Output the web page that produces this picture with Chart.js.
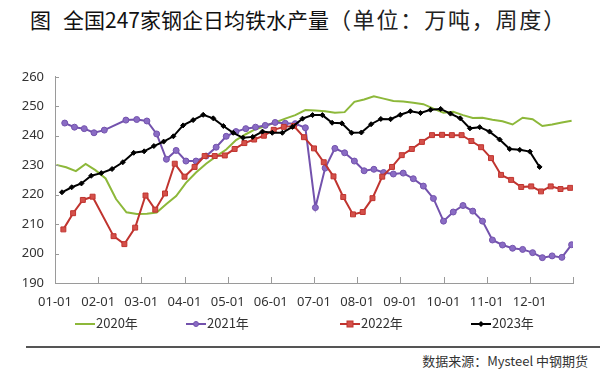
<!DOCTYPE html>
<html>
<head>
<meta charset="utf-8">
<script src="https://cdn.jsdelivr.net/npm/chart.js@4.4.1/dist/chart.umd.min.js"></script>
<style>
	body { margin:0; width:600px; height:372px; background:#fff; position:relative; overflow:hidden;
		font-family:"Noto Sans CJK SC","Noto Sans",sans-serif; }
	#title { position:absolute; left:30px; top:2px; font-size:21px; line-height:32px; color:#111; white-space:nowrap; }
	#title .fig { margin-right:12px; }
	#title .unit { font-size:22px; letter-spacing:1.8px; color:#222; }
	#chart { position:absolute; left:0; top:58px; }
	#legend { position:absolute; left:0; top:314px; width:600px; height:18px; font-size:13px; color:#333; }
	#legend .item { position:absolute; top:0; height:18px; line-height:18px; white-space:nowrap; }
	#legend svg { vertical-align:middle; margin-right:1px; }
	#rule { position:absolute; left:26px; right:0; top:346px; height:2px; background:#555; }
	#source { position:absolute; right:12px; top:351px; font-size:13px; color:#333; white-space:nowrap; }
</style>
</head>
<body>
<div id="title"><span class="fig">图</span><span>全国247家钢企日均铁水产量</span><span class="unit">（单位：万吨，周度）</span></div>
<canvas id="chart" width="600" height="262"></canvas>
<div id="legend"></div>
<div id="rule"></div>
<div id="source">数据来源：Mysteel 中钢期货</div>
<script>
// x axis labels (month starts)
var monthLabels = ["01-01","02-01","03-01","04-01","05-01","06-01","07-01","08-01","09-01","10-01","11-01","12-01"];
var yTicks = [190, 200, 210, 220, 230, 240, 250, 260];
var seriesNames = ["2020年", "2021年", "2022年", "2023年"];

// weekly series, first report date + weeks with no report (spring festival)
var start2020 = "2020-01-02", skip2020 = [];
var start2021 = "2021-01-08", skip2021 = ["2021-02-12"];
var start2022 = "2022-01-07", skip2022 = ["2022-02-04"];
var start2023 = "2023-01-06", skip2023 = [];

var values2020 = [230.1,229.3,228.0,230.4,228.3,225.5,218.5,214.0,213.4,213.5,
	213.9,216.8,219.5,224.0,227.5,230.5,233.0,235.3,238.5,240.5,
	242.2,243.3,244.5,245.8,247.0,248.7,248.6,248.3,247.8,248.0,
	251.5,252.3,253.4,252.6,251.8,251.6,251.2,250.7,249.2,247.8,
	248.1,247.0,246.0,246.1,245.4,244.9,243.8,246.1,245.6,243.3,
	243.8,244.5,245.1];
var values2021 = [244.3,242.9,242.4,241.0,241.9,245.3,245.5,245.0,240.6,232.0,
	235.0,231.4,231.4,233.1,236.1,239.8,241.4,242.4,242.9,243.5,
	244.5,244.2,244.1,242.7,215.6,229.0,235.7,234.2,231.4,228.1,
	228.6,227.5,227.0,227.3,225.4,222.9,218.7,211.0,214.1,216.3,
	214.4,211.0,204.6,202.9,201.8,201.4,200.3,198.6,199.2,198.7,
	203.0];
var values2022 = [208.2,213.7,218.2,219.3,205.9,203.2,208.8,219.7,214.9,220.4,
	230.5,226.1,229.4,233.1,233.1,233.3,235.5,237.5,238.7,240.0,
	242.0,243.0,243.3,239.5,235.7,231.0,226.2,219.2,213.3,214.1,
	218.8,226.1,229.4,233.4,235.5,237.9,240.2,240.3,240.2,240.2,
	238.2,236.1,232.4,226.7,225.0,222.6,222.8,221.1,222.8,221.9,
	222.3];
var values2023 = [220.8,222.5,223.8,226.4,227.3,228.7,231.0,234.2,234.7,236.5,
	238.0,239.8,243.5,245.3,247.1,245.9,243.3,241.0,239.3,239.6,
	241.4,241.0,241.0,243.0,245.8,247.0,247.0,244.4,244.2,241.0,
	241.1,243.9,245.7,245.6,247.1,248.3,247.7,248.8,249.1,247.5,
	245.9,242.5,242.9,241.4,238.7,235.5,235.2,234.6,229.4];

var axisColor = "#9a9a9a";
var tickFont = { family: "'Noto Sans', sans-serif", size: 13 };

function weekly(start, count, skip) {
	var list = [];
	var d = new Date(start + "T00:00:00Z");
	while (list.length < count) {
		var s = d.toISOString().slice(0, 10);
		if (skip.indexOf(s) < 0) {
			list.push(s);
		}
		d.setUTCDate(d.getUTCDate() + 7);
	}
	return list;
}
// every month gets the same width on the axis, like the source chart
function monthPos(dateStr) {
	var p = dateStr.split("-");
	var y = +p[0], m = +p[1], day = +p[2];
	var days = new Date(Date.UTC(y, m, 0)).getUTCDate();
	return (m - 1) + (day - 1) / days;
}
function toPoints(start, skip, values) {
	var dates = weekly(start, values.length, skip);
	var pts = [];
	for (var i in values) {
		pts.push({ x: monthPos(dates[i]), y: values[i] });
	}
	return pts;
}

var innerTicks = {
	id: "innerTicks",
	afterDraw: function(chart) {
		var ctx = chart.ctx, a = chart.chartArea;
		var xs = chart.scales.x, ys = chart.scales.y;
		ctx.save();
		ctx.strokeStyle = axisColor;
		ctx.lineWidth = 1;
		ctx.beginPath();
		xs.ticks.forEach(function(t) {
			var px = Math.round(xs.getPixelForValue(t.value)) + 0.5;
			ctx.moveTo(px, a.bottom);
			ctx.lineTo(px, a.bottom - 6);
		});
		ys.ticks.forEach(function(t) {
			var py = Math.round(ys.getPixelForValue(t.value)) + 0.5;
			ctx.moveTo(a.left, py);
			ctx.lineTo(a.left + 4, py);
		});
		ctx.stroke();
		ctx.restore();
	}
};

var lineColors = ["#8db83a", "#7352ad", "#c0342f", "#000000"];
var pointFill = ["#8db83a", "#8a6cc4", "#d4504a", "#000000"];
var pointShapes = [false, "circle", "rect", "rectRot"];
var pointSizes = [0, 3, 3.5, 2.5];

var config = {
	type: "line",
	data: {
		datasets: [
			{ label: seriesNames[3], data: toPoints(start2023, skip2023, values2023), order: 0 },
			{ label: seriesNames[2], data: toPoints(start2022, skip2022, values2022), order: 1 },
			{ label: seriesNames[1], data: toPoints(start2021, skip2021, values2021), order: 2 },
			{ label: seriesNames[0], data: toPoints(start2020, skip2020, values2020), order: 3 }
		]
	},
	options: {
		responsive: false,
		animation: false,
		layout: { padding: { top: 17, right: 27, left: 0, bottom: 0 } },
		plugins: { legend: { display: false }, tooltip: { enabled: false } },
		scales: {
			x: {
				type: "linear", min: 0, max: 12,
				grid: { drawOnChartArea: false, drawTicks: false },
				border: { color: axisColor, width: 1 },
				ticks: {
					stepSize: 1, autoSkip: false, maxRotation: 0, padding: 11,
					color: "#333", font: tickFont,
					callback: function(v) { return monthLabels[v] || ""; }
				},
				afterFit: function(s) { s.height = 37; }
			},
			y: {
				min: 190, max: 260,
				grid: { drawOnChartArea: false, drawTicks: false },
				border: { color: axisColor, width: 1 },
				afterBuildTicks: function(s) { s.ticks = yTicks.map(function(v) { return { value: v }; }); },
				ticks: { padding: 11, color: "#333", font: tickFont },
				afterFit: function(s) { s.width = 55; }
			}
		}
	},
	plugins: [innerTicks]
};

config.data.datasets.forEach(function(ds) {
	var k = seriesNames.indexOf(ds.label);
	ds.borderColor = lineColors[k];
	ds.backgroundColor = pointFill[k];
	ds.borderWidth = 2;
	ds.tension = 0;
	ds.pointStyle = pointShapes[k];
	ds.pointRadius = pointSizes[k];
	ds.pointBorderColor = lineColors[k];
	ds.pointBorderWidth = 1;
});

new Chart(document.getElementById("chart").getContext("2d"), config);

// legend drawn as html so the item gaps match the source
var legendLeft = [75, 186, 340, 471];
function legendIcon(k) {
	var c = lineColors[k], f = pointFill[k];
	var svg = '<svg width="20" height="10"><line x1="0" y1="5" x2="20" y2="5" stroke="' + c + '" stroke-width="2"/>';
	if (pointShapes[k] == "circle") svg += '<circle cx="10" cy="5" r="2.5" fill="' + f + '" stroke="' + c + '"/>';
	if (pointShapes[k] == "rect") svg += '<rect x="7" y="2" width="6" height="6" fill="' + f + '" stroke="' + c + '"/>';
	if (pointShapes[k] == "rectRot") svg += '<path d="M10 2 L13 5 L10 8 L7 5 Z" fill="' + f + '"/>';
	return svg + "</svg>";
}
var html = "";
for (var k in seriesNames) {
	html += '<div class="item" style="left:' + legendLeft[k] + 'px">' + legendIcon(+k) + seriesNames[k] + "</div>";
}
document.getElementById("legend").innerHTML = html;
</script>
</body>
</html>
